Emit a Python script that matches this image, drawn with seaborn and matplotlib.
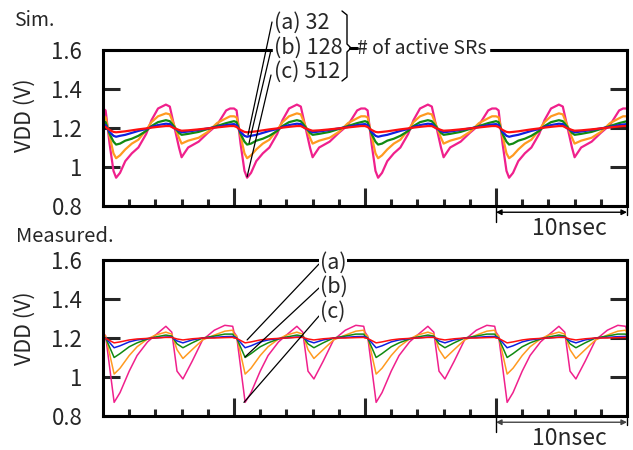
import numpy as np
import pandas as pd
import matplotlib
matplotlib.use("Agg")
import matplotlib.pyplot as plt
import matplotlib.transforms as mtransforms
from matplotlib.lines import Line2D
import seaborn as sns

# ---- data (one 10 ns period, repeated 4 times) ----
curve_names = ["pink", "orange", "green", "blue", "red"]
curve_colors = ["#f0208c", "#ff9a20", "#118a11", "#1020e0", "#ff1010"]

# Sim. panel
t_sim = [0.0, 0.2, 0.5, 0.8, 1.0, 1.3, 1.7, 2.2, 2.7, 3.3, 3.7, 4.2, 4.8, 5.1,
         5.4, 5.8, 6.0, 6.5, 7.3, 8.0, 8.7, 9.4, 9.7]
sim_pink = [1.30, 1.29, 1.12, 0.98, 0.945, 0.97, 1.03, 1.07, 1.10, 1.17, 1.24, 1.30, 1.32, 1.31,
            1.22, 1.10, 1.05, 1.10, 1.13, 1.175, 1.215, 1.29, 1.30]
sim_orange = [1.26, 1.255, 1.16, 1.07, 1.045, 1.06, 1.09, 1.12, 1.14, 1.19, 1.23, 1.26, 1.275, 1.27,
              1.22, 1.15, 1.12, 1.135, 1.15, 1.18, 1.225, 1.25, 1.26]
sim_green = [1.235, 1.23, 1.17, 1.13, 1.115, 1.12, 1.135, 1.145, 1.16, 1.185, 1.21, 1.23, 1.24, 1.235,
             1.21, 1.175, 1.165, 1.17, 1.18, 1.195, 1.21, 1.225, 1.23]
sim_blue = [1.22, 1.215, 1.18, 1.16, 1.155, 1.16, 1.165, 1.175, 1.185, 1.195, 1.205, 1.215, 1.222, 1.22,
            1.2, 1.185, 1.178, 1.182, 1.19, 1.198, 1.205, 1.215, 1.218]
sim_red = [1.21, 1.205, 1.19, 1.18, 1.178, 1.18, 1.183, 1.188, 1.193, 1.198, 1.202, 1.206, 1.21, 1.21,
           1.2, 1.19, 1.186, 1.188, 1.193, 1.198, 1.203, 1.208, 1.21]

# Measured panel
t_meas = [0.0, 0.2, 0.85, 1.3, 2.0, 2.6, 3.4, 4.0, 4.8, 5.25, 5.65, 6.1, 6.8, 7.6, 8.5, 9.3, 9.9]
meas_pink = [1.23, 1.21, 0.87, 0.92, 1.03, 1.11, 1.18, 1.215, 1.26, 1.23, 1.03, 0.99, 1.08, 1.19,
             1.24, 1.265, 1.26]
meas_orange = [1.22, 1.21, 1.015, 1.045, 1.11, 1.155, 1.195, 1.215, 1.23, 1.22, 1.14, 1.095, 1.14, 1.19,
               1.215, 1.235, 1.24]
meas_green = [1.21, 1.2, 1.10, 1.12, 1.155, 1.175, 1.195, 1.205, 1.215, 1.21, 1.17, 1.15, 1.175, 1.2,
              1.21, 1.22, 1.22]
meas_blue = [1.205, 1.2, 1.15, 1.16, 1.18, 1.19, 1.197, 1.2, 1.205, 1.205, 1.185, 1.175, 1.19, 1.2,
             1.203, 1.207, 1.208]
meas_red = [1.2, 1.198, 1.175, 1.18, 1.19, 1.195, 1.198, 1.2, 1.203, 1.203, 1.195, 1.19, 1.196, 1.2,
            1.2, 1.202, 1.203]

n_periods = 4
period = 10.0


def long_table(t_period, series):
    rows = []
    for name, vals in zip(curve_names, series):
        t_all = [tp + k * period for k in range(n_periods) for tp in t_period] + [n_periods * period]
        v_all = list(vals) * n_periods + [vals[0]]
        rows.append(pd.DataFrame({"t": t_all, "v": v_all, "curve": name}))
    return pd.concat(rows, ignore_index=True)


df_sim = long_table(t_sim, [sim_pink, sim_orange, sim_green, sim_blue, sim_red])
df_meas = long_table(t_meas, [meas_pink, meas_orange, meas_green, meas_blue, meas_red])

# ---- style ----
sns.set_style("white")
plt.rcParams["font.family"] = ["Noto Sans CJK JP", "DejaVu Sans"]

W, H = 633, 450
fig = plt.figure(figsize=(W / 100, H / 100), dpi=100)


def fx(px):
    return px / W


def fy(py):
    return 1 - py / H


ax1 = fig.add_axes([fx(103), fy(206), fx(627) - fx(103), fy(50) - fy(206)])
ax2 = fig.add_axes([fx(103), fy(416), fx(627) - fx(103), fy(260) - fy(416)])

palette = dict(zip(curve_names, curve_colors))
sns.lineplot(data=df_sim, x="t", y="v", hue="curve", hue_order=curve_names, palette=palette,
             legend=False, ax=ax1, lw=1.6, estimator=None, sort=False)
sns.lineplot(data=df_meas, x="t", y="v", hue="curve", hue_order=curve_names, palette=palette,
             legend=False, ax=ax2, lw=1.1, estimator=None, sort=False)

minor_x = [x for x in range(2, 40, 2) if x % 10 != 0]
for ax in (ax1, ax2):
    ax.set_xlim(0, 40)
    ax.set_ylim(0.8, 1.6)
    ax.set_xlabel("")
    ax.set_ylabel("")
    ax.set_xticks([10, 20, 30])
    ax.set_xticks(minor_x, minor=True)
    ax.set_xticklabels([])
    ax.set_yticks([0.8, 1.0, 1.2, 1.4, 1.6])
    ax.set_yticklabels(["0.8", "1", "1.2", "1.4", "1.6"])
    ax.tick_params(axis="x", which="major", direction="in", length=13, width=2.2, bottom=True, top=False)
    ax.tick_params(axis="x", which="minor", direction="in", length=5, width=2.2, bottom=True, top=False)
    ax.tick_params(axis="y", direction="in", length=12, width=2.2, left=True, right=True,
                   labelsize=16, pad=15)
    for sp in ax.spines.values():
        sp.set_linewidth(2.2)
        sp.set_color("black")
        sp.set_visible(True)

    # 10nsec scale bar
    trans = mtransforms.blended_transform_factory(ax.transData, ax.transAxes)
    ax.plot([30, 30], [0, -0.1], color="black", lw=1.0, transform=trans, clip_on=False)
    ax.plot([40, 40], [-0.01, -0.06], color="black", lw=1.0, transform=trans, clip_on=False)
    ax.annotate("", xy=(40, -0.04), xytext=(30, -0.04), xycoords=trans, textcoords=trans,
                arrowprops=dict(arrowstyle="<|-|>", color="black" if ax is ax1 else "#444444",
                                lw=1.0, mutation_scale=8, shrinkA=0, shrinkB=0),
                annotation_clip=False)
    ax.text(35.6, -0.145, "10nsec", transform=trans, ha="center", va="center", fontsize=16.5)

# panel titles and y labels
fig.text(fx(14), fy(21), "Sim.", ha="left", va="center", fontsize=14)
fig.text(fx(16), fy(236), "Measured.", ha="left", va="center", fontsize=14.5)
fig.text(fx(25), fy(115), "VDD (V)", rotation=90, ha="center", va="center", fontsize=15.5)
fig.text(fx(25), fy(328), "VDD (V)", rotation=90, ha="center", va="center", fontsize=15.5)

# Sim. annotations
fig.patches.append(plt.Rectangle((fx(273), fy(55)), fx(489) - fx(273), fy(45) - fy(55),
                                 transform=fig.transFigure, color="white", zorder=1))
for label, ypx in zip(["(a) 32", "(b) 128", "(c) 512"], [23, 48, 72]):
    fig.text(fx(274), fy(ypx), label, ha="left", va="center", fontsize=15.5, zorder=3)
fig.text(fx(357), fy(48), "# of active SRs", ha="left", va="center", fontsize=14, zorder=3)
brace_x = [fx(342), fx(347), fx(347), fx(351), fx(347), fx(347), fx(342)]
brace_y = [fy(11), fy(15), fy(44), fy(48), fy(52), fy(77), fy(81)]
fig.add_artist(Line2D(brace_x, brace_y, color="black", lw=1.0, transform=fig.transFigure))
fig.add_artist(Line2D([fx(350), fx(357)], [fy(48), fy(48)], color="black", lw=2.2,
                      transform=fig.transFigure))

sim_targets = [(11.07, 1.164), (11.15, 1.123), (11.0, 0.95)]
sim_starts = [(272, 22), (271, 50), (271, 75)]
for (tx, vy), (sx, sy) in zip(sim_targets, sim_starts):
    ax1.annotate("", xy=(tx, vy), xycoords="data", xytext=(fx(sx), fy(sy)),
                 textcoords="figure fraction",
                 arrowprops=dict(arrowstyle="-", color="black", lw=0.9, shrinkA=0, shrinkB=0),
                 annotation_clip=False)

# Measured annotations
for label, ypx in zip(["(a)", "(b)", "(c)"], [263, 287, 312]):
    fig.text(fx(320), fy(ypx), label, ha="left", va="center", fontsize=15.5, zorder=3,
             bbox=dict(facecolor="white", edgecolor="none", pad=0.5))
meas_targets = [(11.0, 1.19), (10.84, 1.103), (10.76, 0.87)]
meas_starts = [(319, 264), (319, 288), (319, 316)]
for (tx, vy), (sx, sy) in zip(meas_targets, meas_starts):
    ax2.annotate("", xy=(tx, vy), xycoords="data", xytext=(fx(sx), fy(sy)),
                 textcoords="figure fraction",
                 arrowprops=dict(arrowstyle="-", color="black", lw=0.9, shrinkA=0, shrinkB=0),
                 annotation_clip=False)

plt.savefig("out.png", dpi=100)
